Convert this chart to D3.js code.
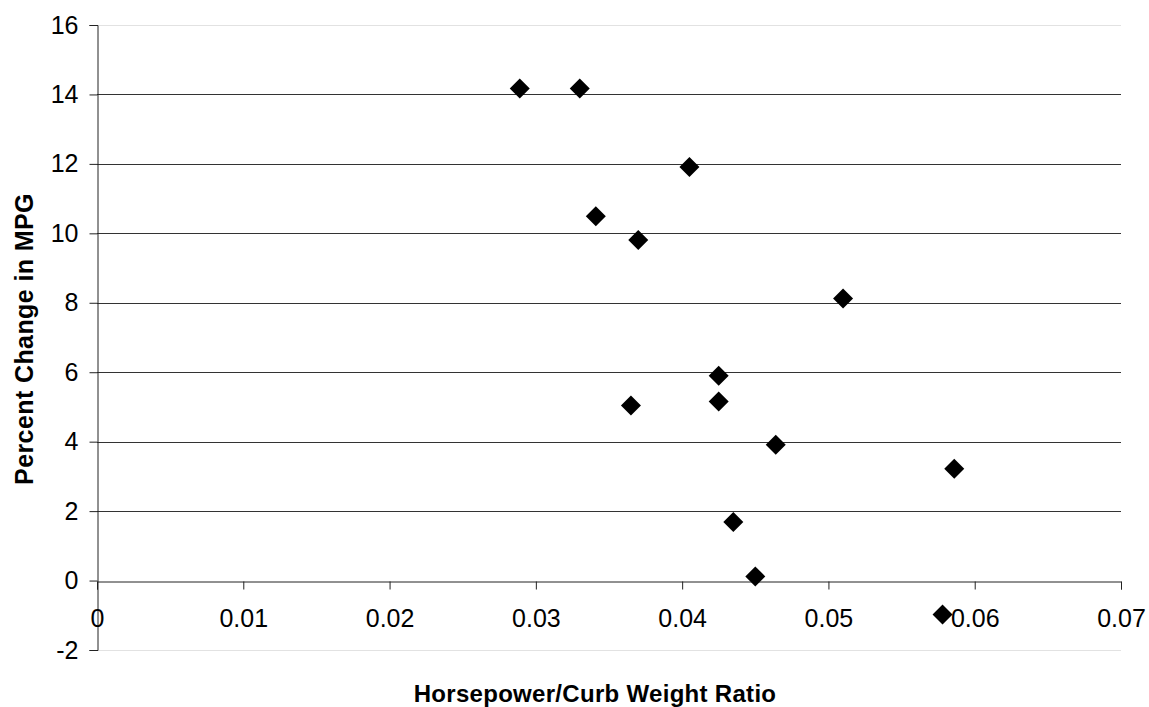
<!DOCTYPE html>
<html>
<head>
<meta charset="utf-8">
<script src="https://cdn.jsdelivr.net/npm/d3@7"></script>
<style>
    body { margin: 0; background: #fff; }
    svg { display: block; font-family: "Liberation Sans", Arial, sans-serif; }
</style>
</head>
<body>
<div class="chart"></div>
<script>
// Données
const ratio = [0.0289, 0.0330, 0.0405, 0.0341, 0.0370, 0.0510, 0.0425, 0.0365, 0.0425, 0.0464, 0.0586, 0.0435, 0.0450, 0.0578]
const mpgChange = [14.17, 14.17, 11.91, 10.49, 9.81, 8.12, 5.90, 5.04, 5.16, 3.91, 3.22, 1.69, 0.12, -0.98]
const xTicks = [0, 0.01, 0.02, 0.03, 0.04, 0.05, 0.06, 0.07]
const yTicks = [-2, 0, 2, 4, 6, 8, 10, 12, 14, 16]

const points = ratio.map((r, i) => ({ x: r, y: mpgChange[i] }))

// Dimensions
const width = 1149,
    height = 707
const margin = { top: 25, right: 28, bottom: 57, left: 97 }
const tickFont = 25

const svg = d3.select('.chart')
    .append('svg')
    .attr('width', width)
    .attr('height', height)

// Échelles
const x = d3.scaleLinear()
    .domain([0, 0.07])
    .range([margin.left, width - margin.right])

const y = d3.scaleLinear()
    .domain([-2, 16])
    .range([height - margin.bottom, margin.top])

// Bordure du cadre (haut et bas, gris clair)
svg.append('g')
    .selectAll('line')
    .data([16, -2])
    .join('line')
    .attr('x1', x(0))
    .attr('x2', x(0.07))
    .attr('y1', d => Math.round(y(d)) + 0.5)
    .attr('y2', d => Math.round(y(d)) + 0.5)
    .attr('stroke', '#e2e2e2')

// Lignes de grille
svg.append('g')
    .selectAll('line')
    .data(yTicks.filter(d => d > -2 && d < 16 && d !== 0))
    .join('line')
    .attr('x1', x(0))
    .attr('x2', x(0.07))
    .attr('y1', d => Math.round(y(d)) + 0.5)
    .attr('y2', d => Math.round(y(d)) + 0.5)
    .attr('stroke', '#333')

// Axe Y (trait d'union au lieu du signe moins unicode)
const yAxis = svg.append('g')
    .attr('transform', `translate(${Math.round(x(0)) + 0.5}, 0)`)
    .call(d3.axisLeft(y).tickValues(yTicks).tickSize(8).tickPadding(11).tickFormat(d => String(d)))
yAxis.select('.domain').attr('stroke', '#222')
yAxis.selectAll('.tick line').attr('stroke', '#222')
yAxis.selectAll('.tick text')
    .attr('font-size', tickFont)
    .attr('fill', '#000')
    .attr('font-family', '"Liberation Sans", Arial, sans-serif')

// Axe X (à y = 0)
const xAxis = svg.append('g')
    .attr('transform', `translate(0, ${Math.round(y(0)) + 0.5})`)
    .call(d3.axisBottom(x).tickValues(xTicks).tickSize(8).tickPadding(20).tickFormat(d => d === 0 ? '0' : d.toFixed(2)))
xAxis.select('.domain').attr('stroke', '#222')
xAxis.selectAll('.tick line').attr('stroke', '#222')
xAxis.selectAll('.tick text')
    .attr('font-size', tickFont)
    .attr('fill', '#000')
    .attr('font-family', '"Liberation Sans", Arial, sans-serif')

// Points en losange
const r = 10
svg.append('g')
    .selectAll('path')
    .data(points)
    .join('path')
    .attr('transform', d => `translate(${x(d.x)}, ${y(d.y)})`)
    .attr('d', `M0,${-r} L${r},0 L0,${r} L${-r},0 Z`)
    .attr('fill', '#000')

// Titres des axes
svg.append('text')
    .attr('x', 595)
    .attr('y', 702)
    .attr('text-anchor', 'middle')
    .attr('font-size', 24)
    .attr('font-weight', 'bold')
    .attr('letter-spacing', 0.3)
    .text('Horsepower/Curb Weight Ratio')

svg.append('text')
    .attr('transform', 'translate(33, 339) rotate(-90)')
    .attr('text-anchor', 'middle')
    .attr('font-size', 25)
    .attr('font-weight', 'bold')
    .attr('letter-spacing', 0.4)
    .text('Percent Change in MPG')
</script>
</body>
</html>
